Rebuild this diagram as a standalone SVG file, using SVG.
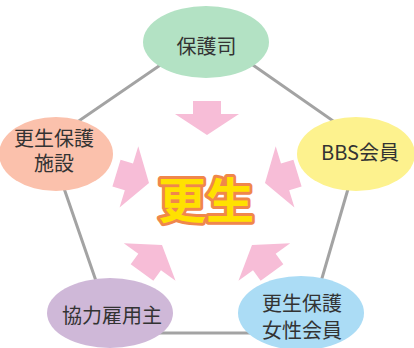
<svg xmlns="http://www.w3.org/2000/svg" width="414" height="348" viewBox="0 0 414 348">
<style>
.edge{fill:none;stroke:#a3a3a3;stroke-width:3}
.lbl{font-family:"Noto Sans CJK JP","Noto Sans",sans-serif;font-size:20px;fill:#333;text-anchor:middle}
.arrow{fill:#f7bdd7}
.core{font-family:"Noto Sans CJK JP","Noto Sans",sans-serif;font-size:48px;font-weight:bold;fill:#ffe100;stroke:#f0874b;stroke-width:6;stroke-linejoin:round;paint-order:stroke;text-anchor:middle}
</style>
<defs>
<polygon id="arr" points="0,0 -21,32 -21,14 -34,14 -34,-14 -21,-14 -21,-32"/>
</defs>
<rect width="414" height="348" fill="#fff"/>
<g id="connectors">
<polygon class="edge" points="207,33 362,141 306,333 114,333 48,142"/>
</g>
<g id="arrows" class="arrow">
<use href="#arr" transform="translate(207,135) rotate(90)"/>
<use href="#arr" transform="translate(149,183) rotate(17)"/>
<use href="#arr" transform="translate(265,183) rotate(163)"/>
<use href="#arr" transform="translate(162,245) rotate(-54)"/>
<use href="#arr" transform="translate(252,245) rotate(-126)"/>
</g>
<g id="center">
<text class="core" x="206" y="218">更生</text>
</g>
<g id="node-hogoshi">
<ellipse cx="206" cy="42" rx="63" ry="36" fill="#b3e2c4"/>
<text class="lbl" x="206.5" y="54">保護司</text>
</g>
<g id="node-shisetsu">
<ellipse cx="56" cy="154" rx="57" ry="37" fill="#fbc1ac"/>
<text class="lbl" x="54" y="145.6">更生保護</text>
<text class="lbl" x="54" y="170.6">施設</text>
</g>
<g id="node-bbs">
<ellipse cx="356" cy="154" rx="59" ry="37" fill="#fdf28e"/>
<text class="lbl" x="360" y="160">BBS会員</text>
</g>
<g id="node-koyou">
<ellipse cx="110" cy="313" rx="63" ry="35" fill="#cfb8d8"/>
<text class="lbl" x="112" y="322.6">協力雇用主</text>
</g>
<g id="node-josei">
<ellipse cx="301" cy="313" rx="63" ry="37" fill="#abdcf5"/>
<text class="lbl" x="302" y="310.6">更生保護</text>
<text class="lbl" x="302" y="337.6">女性会員</text>
</g>
</svg>
